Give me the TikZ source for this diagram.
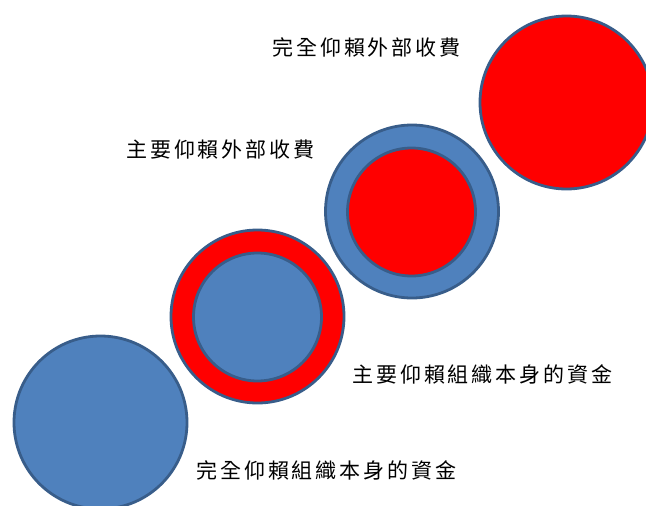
\documentclass[tikz,border=0pt]{standalone}
\usepackage{fontspec}
\newfontfamily\cjk[LetterSpace=14]{Noto Sans CJK TC}
\definecolor{ringblue}{HTML}{4F81BD}
\definecolor{edgeblue}{HTML}{385D8A}
\definecolor{ringred}{HTML}{FF0000}
\begin{document}
\begin{tikzpicture}[x=1pt,y=-1pt,
  disc/.style={circle, draw=edgeblue, line width=2.8pt, inner sep=0pt, outer sep=0pt},
  bigdisc/.style={disc, minimum size=173pt},
  smalldisc/.style={disc, minimum size=128pt},
  label/.style={font=\cjk\fontsize{21pt}{24pt}\selectfont, text=black, inner sep=0pt, anchor=west}]
\useasboundingbox (0,0) rectangle (646,506);
\node[bigdisc, fill=ringblue] (c1) at (100.5,422.5) {};
\node[bigdisc, fill=ringred] (c2) at (257.5,316.5) {};
\node[smalldisc, fill=ringblue] (c2in) at (257.5,317) {};
\node[bigdisc, fill=ringblue] (c3) at (412,211.5) {};
\node[smalldisc, fill=ringred] (c3in) at (411.5,212) {};
\node[bigdisc, fill=ringred] (c4) at (566.5,102.5) {};
\node[label] (t1) at (272,47) {完全仰賴外部收費};
\node[label] (t2) at (126,149) {主要仰賴外部收費};
\node[label] (t3) at (352,374) {主要仰賴組織本身的資金};
\node[label] (t4) at (196,470) {完全仰賴組織本身的資金};
\end{tikzpicture}
\end{document}
